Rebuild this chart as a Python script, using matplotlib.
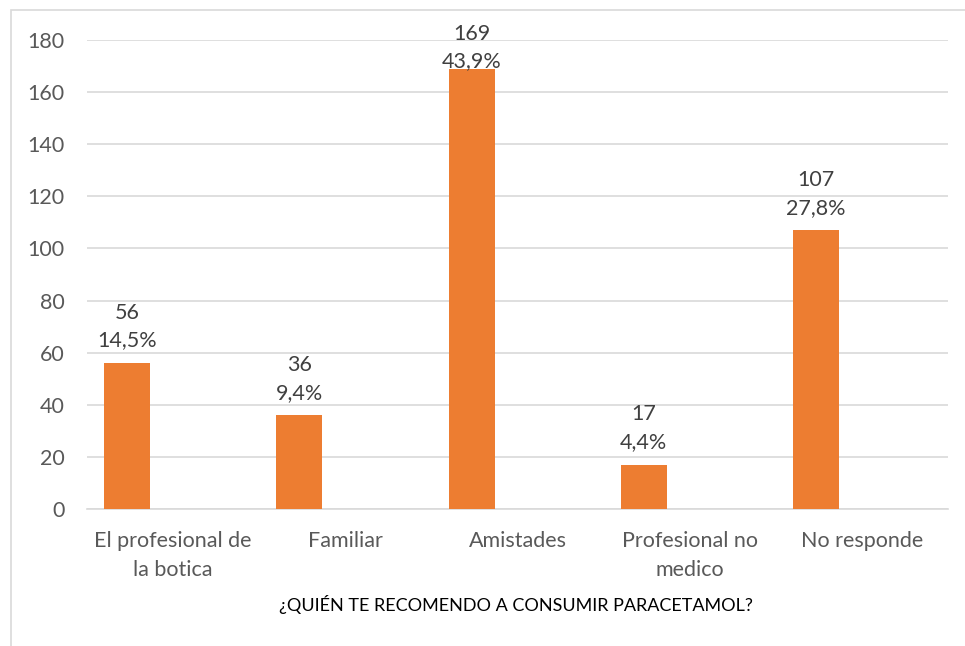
import matplotlib
matplotlib.use('Agg')
import matplotlib.pyplot as plt
from matplotlib.patches import Rectangle
import numpy as np

categories = ['El profesional de\nla botica', 'Familiar', 'Amistades', 'Profesional no\nmedico', 'No responde']
counts = [56, 36, 169, 17, 107]
percents = ['14,5%', '9,4%', '43,9%', '4,4%', '27,8%']
yticks = [0, 20, 40, 60, 80, 100, 120, 140, 160, 180]
xlabel = '¿QUIÉN TE RECOMENDO A CONSUMIR PARACETAMOL?'

plt.rcParams['font.family'] = ['Lato', 'DejaVu Sans']

fig = plt.figure(figsize=(9.65, 6.46), dpi=100)
ax = fig.add_axes([87/965, 1 - 509/646, (948 - 87)/965, (509 - 40)/646])

# outer chart border (runs off the right and bottom edge)
fig.patches.append(Rectangle((11/965, -0.1), 2, 1 - 10/646 + 0.1, transform=fig.transFigure,
                             fill=False, edgecolor='#d9d9d9', linewidth=1.2))

x = np.arange(len(categories))
w = 0.267
bars = ax.bar(x - w, counts, width=w, color='#ED7D31', zorder=3)

fs = 15.5
for b, c, p in zip(bars, counts, percents):
    xc = b.get_x() + b.get_width()/2
    if c > 150:
        # label would run out of the chart, so it is pushed down onto the bar like Excel does
        ax.text(xc, 1.035, f'{c}\n{p}', transform=ax.get_xaxis_transform(), ha='center', va='top',
                fontsize=fs, color='#404040', linespacing=1.5, zorder=4)
    else:
        ax.annotate(f'{c}\n{p}', (xc, c), xytext=(0, 9), textcoords='offset points',
                    ha='center', va='bottom', fontsize=fs, color='#404040', linespacing=1.5)

ax.set_xlim(-0.5, len(categories) - 0.5)
ax.set_ylim(0, 180)
ax.set_yticks(yticks)
ax.set_xticks(x)
ax.set_xticklabels(categories, fontsize=fs, color='#595959', linespacing=1.55)
ax.tick_params(axis='y', labelsize=fs, labelcolor='#595959', length=0, pad=16)
ax.tick_params(axis='x', length=0, pad=16)
ax.grid(axis='y', color='#d9d9d9', linewidth=1.2, zorder=0)
for s in ['top', 'right', 'left']:
    ax.spines[s].set_visible(False)
ax.spines['bottom'].set_color('#d9d9d9')
ax.spines['bottom'].set_linewidth(1.2)

fig.text(516/965, 1 - 605/646, xlabel, ha='center', va='center', fontsize=13, color='black')

fig.savefig('out.png', dpi=100)
